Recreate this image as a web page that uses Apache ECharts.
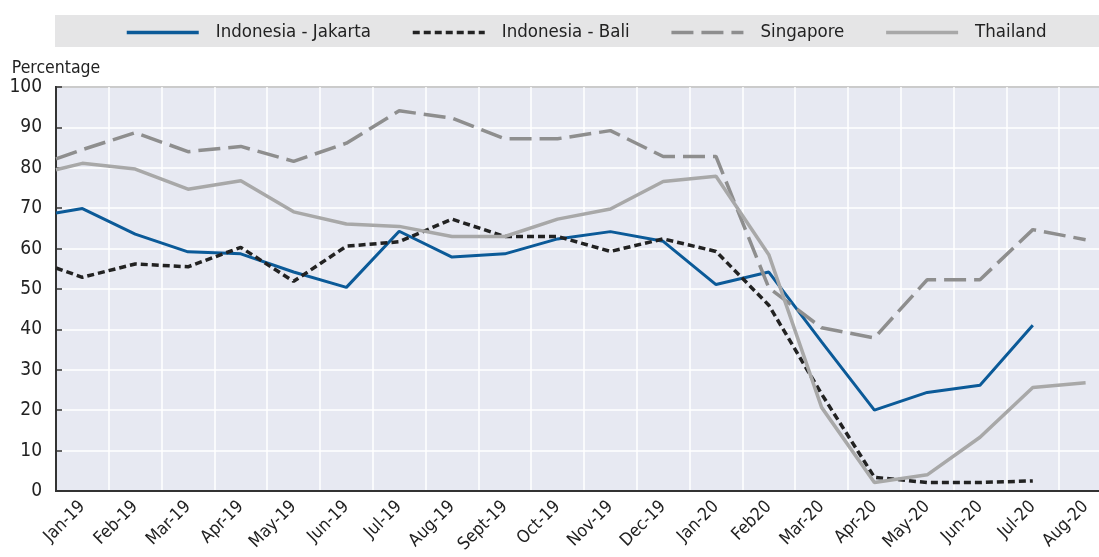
<!DOCTYPE html>
<html>
<head>
<meta charset="utf-8">
<script src="https://cdn.jsdelivr.net/npm/echarts@6/dist/echarts.min.js"></script>
<style>
  html, body { margin: 0; padding: 0; background: #fff; }
  #main { width: 1099px; height: 557px; }
</style>
</head>
<body>
<div id="main"></div>
<script>
// month labels on the x axis
const months = ['Jan-19', 'Feb-19', 'Mar-19', 'Apr-19', 'May-19', 'Jun-19', 'Jul-19', 'Aug-19',
  'Sept-19', 'Oct-19', 'Nov-19', 'Dec-19', 'Jan-20', 'Feb20', 'Mar-20', 'Apr-20',
  'May-20', 'Jun-20', 'Jul-20', 'Aug-20'];

// value where each line enters at the left edge of the plot
const edgeJakarta = 68.8;
const edgeBali = 55.2;
const edgeSingapore = 82.2;
const edgeThailand = 79.5;

// monthly values (percentage)
const jakarta = [69.9, 63.6, 59.2, 58.7, 54.2, 50.4, 64.3, 57.9, 58.7, 62.4, 64.2, 61.8,
  51.1, 54.2, 36.9, 20.0, 24.4, 26.2, 41.0, null];
const bali = [52.9, 56.2, 55.5, 60.3, 51.9, 60.6, 61.7, 67.3, 63.0, 63.0, 59.3, 62.4,
  59.3, 46.0, 24.0, 3.4, 2.1, 2.1, 2.5, null];
const singapore = [84.5, 88.7, 84.0, 85.3, 81.6, 86.1, 94.1, 92.3, 87.2, 87.2, 89.2, 82.8,
  82.8, 50.3, 40.4, 37.9, 52.3, 52.3, 64.7, 62.2];
const thailand = [81.1, 79.7, 74.7, 76.8, 69.1, 66.1, 65.5, 63.0, 63.0, 67.3, 69.8, 76.6,
  77.9, 58.5, 20.7, 2.1, 4.0, 13.3, 25.6, 26.8];

const font = "'Liberation Sans Narrow', 'DejaVu Sans Condensed', 'Roboto', sans-serif";

// points sit in the middle of each month band, edge value at the axis
function toPoints(edge, vals) {
  const pts = [[0, edge]];
  vals.forEach(function (v, i) {
    if (v !== null) pts.push([i + 0.5, v]);
  });
  return pts;
}

const chart = echarts.init(document.getElementById('main'));

chart.setOption({
  animation: false,
  textStyle: { fontFamily: font },
  graphic: [{
    type: 'rect',
    left: 55,
    top: 15,
    shape: { width: 1060, height: 32 },
    style: { fill: '#e5e5e6' },
    z: -1
  }],
  legend: {
    left: 120,
    top: 18,
    itemWidth: 72,
    itemHeight: 16,
    itemGap: 40,
    itemStyle: { opacity: 0 },
    lineStyle: { width: 3.5 },
    textStyle: { fontSize: 18.5, color: '#222', fontFamily: font, padding: [0, 0, 0, 12] },
    data: ['Indonesia - Jakarta', 'Indonesia - Bali', 'Singapore', 'Thailand']
  },
  grid: {
    left: 56,
    right: -13,
    top: 87,
    bottom: 66,
    outerBoundsMode: 'none',
    show: true,
    backgroundColor: '#e7e9f2',
    borderColor: '#333',
    borderWidth: 2
  },
  xAxis: [{
    type: 'category',
    data: months,
    boundaryGap: true,
    axisLine: { lineStyle: { color: '#333', width: 2 } },
    axisTick: { inside: true, length: 7, interval: 0, lineStyle: { color: '#666', width: 1.5 } },
    axisLabel: { rotate: 45, interval: 0, fontSize: 17.5, color: '#222', margin: 13, fontFamily: font },
    splitLine: { show: true, interval: 0, lineStyle: { color: '#fff', width: 1.5 } }
  }, {
    type: 'value',
    min: 0,
    max: 20,
    show: false
  }],
  yAxis: {
    type: 'value',
    min: 0,
    max: 100,
    interval: 10,
    name: 'Percentage',
    nameLocation: 'end',
    nameGap: 10,
    nameTextStyle: { fontSize: 17.5, color: '#222', fontFamily: font },
    axisLine: { show: true, lineStyle: { color: '#333', width: 2 } },
    axisTick: { show: true, inside: true, length: 6, lineStyle: { color: '#333', width: 1.5 } },
    axisLabel: { fontSize: 19, color: '#222', margin: 14, fontFamily: font },
    splitLine: { lineStyle: { color: '#fff', width: 1.5 } }
  },
  series: [{
    name: 'Indonesia - Jakarta',
    type: 'line',
    xAxisIndex: 1,
    symbol: 'none',
    color: '#0b5a98',
    lineStyle: { width: 3, color: '#0b5a98' },
    data: toPoints(edgeJakarta, jakarta)
  }, {
    name: 'Indonesia - Bali',
    type: 'line',
    xAxisIndex: 1,
    symbol: 'none',
    color: '#222',
    lineStyle: { width: 3.5, color: '#222', type: [7, 4] },
    data: toPoints(edgeBali, bali)
  }, {
    name: 'Singapore',
    type: 'line',
    xAxisIndex: 1,
    symbol: 'none',
    color: '#8e8e8e',
    lineStyle: { width: 3.5, color: '#8e8e8e', type: [22, 8] },
    data: toPoints(edgeSingapore, singapore)
  }, {
    name: 'Thailand',
    type: 'line',
    xAxisIndex: 1,
    symbol: 'none',
    color: '#a8a8a8',
    lineStyle: { width: 3.5, color: '#a8a8a8' },
    data: toPoints(edgeThailand, thailand)
  }]
});
</script>
</body>
</html>
